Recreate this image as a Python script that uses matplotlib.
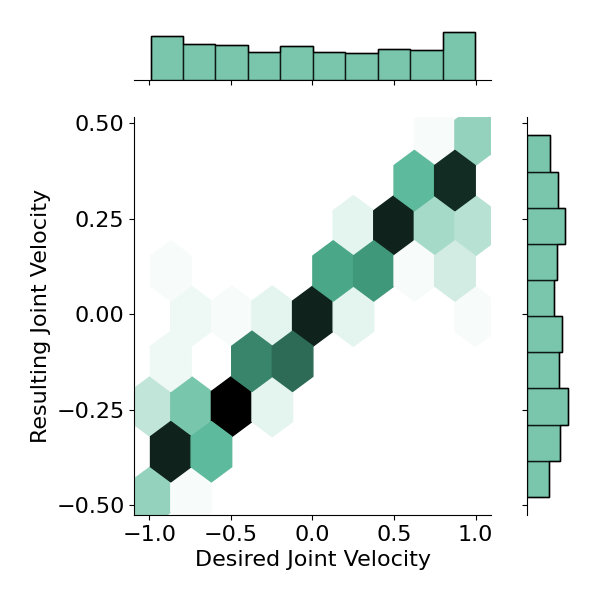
import colorsys
import numpy as np
import matplotlib
matplotlib.use("Agg")
import matplotlib.pyplot as plt
from matplotlib.colors import LinearSegmentedColormap, to_rgb

# ---- data (binned samples) ----
hex_x = [-0.99, -0.74, -0.87, -0.62, -0.99, -0.74, -0.49, -0.25, -0.87, -0.37,
         -0.12, -0.74, -0.49, -0.25, 0.00, 0.25, 0.99, -0.87, 0.13, 0.38,
         0.62, 0.87, 0.25, 0.50, 0.75, 0.99, 0.62, 0.87, 0.75, 0.99]
hex_y = [-0.47, -0.47, -0.36, -0.36, -0.24, -0.24, -0.24, -0.24, -0.12, -0.12,
         -0.12, 0.00, 0.00, 0.00, 0.00, 0.00, 0.00, 0.11, 0.11, 0.11,
         0.11, 0.11, 0.23, 0.23, 0.23, 0.23, 0.35, 0.35, 0.46, 0.46]
hex_count = [12, 1, 36, 18, 7, 15, 40, 3, 2, 25,
             28, 2, 1, 3, 36, 3, 1, 1, 21, 23,
             1, 5, 3, 36, 10, 8, 18, 35, 1, 12]

x_range = (-0.992, 0.998)
y_range = (-0.478, 0.468)
x_hist_counts = [52, 42, 41, 33, 40, 33, 32, 36, 35, 56]
y_hist_counts = [28, 42, 53, 41, 45, 35, 38, 49, 40, 30]

x_ticks = [-1.0, -0.5, 0.0, 0.5, 1.0]
y_ticks = [-0.50, -0.25, 0.00, 0.25, 0.50]
x_label = "Desired Joint Velocity"
y_label = "Resulting Joint Velocity"

color = "#4CB391"

# seaborn-style colormap from white to black through the color's hue
rgb = to_rgb(color)
h, l, s = colorsys.rgb_to_hls(*rgb)
cols = [colorsys.hls_to_rgb(h, lv, s) for lv in np.linspace(1, 0, 12)]
cmap = LinearSegmentedColormap.from_list("blend", cols)

plt.rcParams["font.size"] = 16
fig = plt.figure(figsize=(6, 6), dpi=100)
ax = fig.add_axes([0.2238, 0.1417, 0.5953, 0.6628])
axx = fig.add_axes([0.2238, 0.8667, 0.5953, 0.0833], sharex=ax)
axy = fig.add_axes([0.8788, 0.1417, 0.0717, 0.6628], sharey=ax)

ax.hexbin(hex_x, hex_y, C=hex_count, reduce_C_function=np.sum,
          gridsize=(8, 4), extent=(x_range[0], x_range[1], y_range[0], y_range[1]),
          cmap=cmap, vmin=0, vmax=max(hex_count))

x_edges = np.linspace(x_range[0], x_range[1], len(x_hist_counts) + 1)
y_edges = np.linspace(y_range[0], y_range[1], len(y_hist_counts) + 1)
x_centers = (x_edges[:-1] + x_edges[1:]) / 2
y_centers = (y_edges[:-1] + y_edges[1:]) / 2
axx.hist(x_centers, bins=x_edges, weights=x_hist_counts, color=color, alpha=0.75,
         edgecolor="black", linewidth=1)
axx.hist(x_centers, bins=x_edges, weights=x_hist_counts, histtype="step",
         color="black", linewidth=1)
axy.hist(y_centers, bins=y_edges, weights=y_hist_counts, color=color, alpha=0.75,
         orientation="horizontal", edgecolor="black", linewidth=1)
axy.hist(y_centers, bins=y_edges, weights=y_hist_counts, histtype="step",
         orientation="horizontal", color="black", linewidth=1)

ax.set_xticks(x_ticks)
ax.set_yticks(y_ticks)
ax.set_xlabel(x_label)
ax.set_ylabel(y_label)
for sp in ["top", "right"]:
    ax.spines[sp].set_visible(False)

for sp in ["top", "right", "left"]:
    axx.spines[sp].set_visible(False)
axx.tick_params(axis="x", labelbottom=False)
axx.tick_params(axis="y", left=False, labelleft=False)

for sp in ["top", "right", "bottom"]:
    axy.spines[sp].set_visible(False)
axy.tick_params(axis="y", labelleft=False)
axy.tick_params(axis="x", bottom=False, labelbottom=False)

fig.savefig("out.png", dpi=100)
